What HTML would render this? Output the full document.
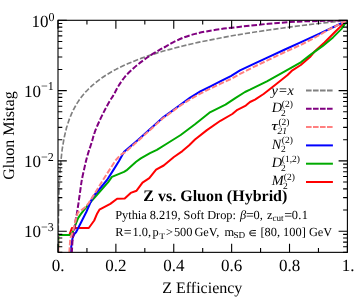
<!DOCTYPE html>
<html><head><meta charset="utf-8"><style>html,body{margin:0;padding:0;background:#fff}svg{display:block}text{font-family:"Liberation Serif",serif;fill:#000;text-rendering:geometricPrecision}</style></head><body>
<svg width="354" height="298" viewBox="0 0 354 298">
<rect width="354" height="298" fill="#fff"/>
<defs><clipPath id="c"><rect x="58.00" y="20.30" width="289.40" height="232.05"/></clipPath><filter id="tf" x="0" y="0" width="354" height="298" filterUnits="userSpaceOnUse" color-interpolation-filters="sRGB"><feOffset dx="0" dy="0"/></filter></defs>
<g clip-path="url(#c)" fill="none" stroke-linejoin="round">
<path d="M58.2 253.0 L58.2 234.9 L69.4 234.9 L71.9 228.0 L88.8 228.0 L94.2 220.5 L97.2 213.4 L99.4 209.7 L110.3 203.9 L117.1 198.8 L124.7 198.5 L130.7 192.9 L136.6 190.7 L142.5 182.7 L149.3 178.2 L156.1 169.7 L163.7 165.5 L173.9 157.0 L182.4 151.1 L189.2 145.2 L195.0 139.5 L206.9 130.1 L220.4 120.8 L232.3 114.0 L237.4 109.8 L245.8 105.6 L250.0 102.0 L255.0 99.6 L263.6 94.0 L275.4 84.7 L287.3 75.3 L292.4 70.3 L300.8 65.0 L310.0 57.0 L314.3 51.8 L324.5 42.5 L334.7 32.3 L343.2 23.9 L347.4 20.3" stroke="#ff0000" stroke-width="2"/>
<path d="M58.2 247.0 L58.2 234.9 L70.0 234.9 L72.7 232.2 L75.4 224.8 L78.1 218.1 L80.8 214.1 L83.5 210.7 L86.2 207.4 L88.8 204.0 L94.2 198.0 L108.0 182.4 L111.9 176.9 L124.0 171.9 L126.4 170.4 L136.1 161.7 L140.8 158.4 L150.0 153.2 L156.9 149.9 L167.1 143.5 L180.7 135.0 L195.0 124.2 L209.4 112.7 L225.5 104.7 L235.7 97.9 L245.0 92.0 L250.0 89.7 L266.9 81.3 L283.9 71.9 L300.8 62.3 L311.0 54.4 L322.8 45.9 L333.0 37.4 L341.5 28.9 L344.8 23.9 L347.4 20.3" stroke="#00aa00" stroke-width="2"/>
<path d="M70.3 253.0 L72.5 238.3 L74.3 234.2 L76.2 232.0 L86.3 212.0 L92.8 197.0 L100.0 188.5 L107.0 180.0 L113.0 170.6 L119.0 161.0 L124.1 151.8 L138.2 139.8 L152.4 127.1 L162.4 117.9 L170.8 111.9 L180.0 105.0 L190.2 97.6 L200.3 91.4 L210.5 86.3 L220.7 81.2 L230.8 76.1 L240.0 70.4 L254.9 63.4 L270.0 56.3 L284.9 49.5 L300.0 42.7 L320.6 33.2 L334.7 26.5 L347.4 20.3" stroke="#0000ff" stroke-width="2"/>
<path d="M58.1 252.3 L58.2 250.6 L58.2 248.8 L58.2 247.0 L58.2 245.2 L58.2 243.5 L58.2 241.7 L58.2 239.9 L58.2 238.1 L58.2 236.3 L58.3 234.6 L58.3 232.8 L58.3 231.0 L58.3 229.2 L58.3 227.4 L58.3 225.7 L58.4 223.9 L58.4 222.1 L58.4 220.3 L58.4 218.6 L58.5 216.8 L58.5 215.0 L58.5 213.2 L58.6 211.4 L58.6 209.7 L58.6 207.9 L58.7 206.1 L58.7 204.3 L58.7 202.5 L58.8 200.8 L58.8 199.0 L58.9 197.2 L58.9 195.4 L59.0 193.6 L59.0 191.9 L59.1 190.1 L59.2 188.3 L59.2 186.5 L59.3 184.8 L59.4 183.0 L59.5 181.2 L59.6 179.4 L59.7 177.6 L59.8 175.9 L59.9 174.1 L60.0 172.3 L60.1 170.5 L60.2 168.7 L60.4 167.0 L60.5 165.2 L60.7 163.4 L60.8 161.6 L61.0 159.8 L61.2 158.1 L61.4 156.3 L61.6 154.5 L61.8 152.7 L62.0 151.0 L62.2 149.2 L62.5 147.4 L62.8 145.6 L63.1 143.8 L63.4 142.1 L63.7 140.3 L64.0 138.5 L64.4 136.7 L64.8 134.9 L65.2 133.2 L65.6 131.4 L66.1 129.6 L66.5 127.8 L67.1 126.0 L67.6 124.3 L68.2 122.5 L68.8 120.7 L69.4 118.9 L70.1 117.2 L70.9 115.4 L71.6 113.6 L72.4 111.8 L73.3 110.0 L74.2 108.3 L75.2 106.5 L76.2 104.7 L77.3 102.9 L78.5 101.1 L79.7 99.4 L81.0 97.6 L82.4 95.8 L83.9 94.0 L85.4 92.2 L87.1 90.5 L88.8 88.7 L90.7 86.9 L92.6 85.1 L94.7 83.4 L96.9 81.6 L99.2 79.8 L101.7 78.0 L104.3 76.2 L107.1 74.5 L110.0 72.7 L113.2 70.9 L116.5 69.1 L120.0 67.3 L123.7 65.6 L127.6 63.8 L131.8 62.0 L136.3 60.2 L140.9 58.4 L145.9 56.7 L151.2 54.9 L156.8 53.1 L162.7 51.3 L169.0 49.6 L175.7 47.8 L182.7 46.0 L190.2 44.2 L198.1 42.4 L206.5 40.7 L215.5 38.9 L224.9 37.1 L234.9 35.3 L245.5 33.5 L256.8 31.8 L268.7 30.0 L281.4 28.2 L294.8 26.4 L309.0 24.6 L324.0 22.9 L340.0 21.1 L347.4 20.3" stroke="#7f7f7f" stroke-width="1.65" stroke-dasharray="5.2 2.0"/>
<path d="M71.8 253.0 C72.0 250.5 72.3 242.0 72.8 238.0 C73.2 234.0 74.0 231.9 74.5 229.0 C75.0 226.1 75.1 223.3 75.5 220.8 C75.9 218.3 76.3 216.6 76.8 214.0 C77.2 211.4 77.8 208.0 78.2 205.0 C78.7 202.0 79.0 199.2 79.5 196.0 C80.0 192.8 80.5 188.8 80.9 186.0 C81.3 183.2 81.4 182.2 82.0 179.0 C82.6 175.8 83.8 170.8 84.6 167.1 C85.4 163.4 86.2 160.0 87.1 156.9 C87.9 153.8 88.8 151.2 89.7 148.5 C90.6 145.8 91.4 143.5 92.2 140.8 C93.0 138.2 93.3 136.0 94.6 132.6 C95.8 129.2 98.0 124.1 99.7 120.4 C101.4 116.7 103.0 113.5 104.7 110.3 C106.4 107.0 108.3 103.5 109.8 100.9 C111.3 98.4 112.1 97.5 113.6 95.0 C115.1 92.5 116.6 88.8 118.6 85.7 C120.5 82.6 122.8 79.4 125.3 76.4 C127.8 73.4 131.0 70.5 133.8 67.9 C136.6 65.4 139.5 63.2 142.3 61.1 C145.1 59.0 148.0 57.0 150.8 55.2 C153.6 53.4 156.8 51.5 159.2 50.1 C161.6 48.7 162.8 48.2 165.0 47.0 C167.2 45.8 169.4 44.2 172.6 42.6 C175.8 41.0 180.1 38.9 183.9 37.4 C187.7 35.9 191.4 34.9 195.2 33.9 C199.0 32.9 202.3 32.2 206.5 31.4 C210.7 30.6 215.9 29.8 220.6 29.1 C225.3 28.4 229.8 28.0 234.7 27.4 C239.6 26.8 242.8 26.4 250.0 25.7 C257.2 24.9 268.8 23.6 278.2 22.9 C287.6 22.2 295.0 21.7 306.5 21.3 C318.0 20.9 340.6 20.5 347.4 20.3" stroke="#800080" stroke-width="2" stroke-dasharray="5.6 2"/>
<path d="M69.3 253.0 L70.3 238.0 L72.8 232.0 L75.0 222.8 L76.8 216.1 L78.0 212.3 L82.1 209.6 L85.5 207.0 L88.2 203.7 L92.1 197.7 L103.0 180.0 L115.5 160.5 L120.0 155.3 L125.5 152.0 L138.5 140.4 L152.6 127.7 L162.6 118.5 L171.0 112.5 L180.0 105.8 L190.2 99.3 L200.3 93.6 L210.5 88.5 L220.7 83.7 L230.8 79.0 L240.0 73.9 L254.9 66.4 L270.0 59.2 L284.9 52.0 L300.0 45.3 L315.0 37.5 L328.0 30.0 L347.4 20.3" stroke="#ff8080" stroke-width="2" stroke-dasharray="5.6 2"/>
</g>
<g stroke="#000" stroke-width="1.1" fill="none">
<rect x="58.00" y="20.30" width="289.40" height="232.05"/>
<path d="M58.00 252.35v-8.50M58.00 20.30v8.50M86.94 252.35v-4.30M86.94 20.30v4.30M115.88 252.35v-8.50M115.88 20.30v8.50M144.82 252.35v-4.30M144.82 20.30v4.30M173.76 252.35v-8.50M173.76 20.30v8.50M202.70 252.35v-4.30M202.70 20.30v4.30M231.64 252.35v-8.50M231.64 20.30v8.50M260.58 252.35v-4.30M260.58 20.30v4.30M289.52 252.35v-8.50M289.52 20.30v8.50M318.46 252.35v-4.30M318.46 20.30v4.30M347.40 252.35v-8.50M347.40 20.30v8.50M58.00 20.30h8.80M347.40 20.30h-8.80M58.00 90.60h8.80M347.40 90.60h-8.80M58.00 69.43h4.30M347.40 69.43h-4.30M58.00 57.06h4.30M347.40 57.06h-4.30M58.00 48.27h4.30M347.40 48.27h-4.30M58.00 41.46h4.30M347.40 41.46h-4.30M58.00 35.90h4.30M347.40 35.90h-4.30M58.00 31.19h4.30M347.40 31.19h-4.30M58.00 27.11h4.30M347.40 27.11h-4.30M58.00 23.52h4.30M347.40 23.52h-4.30M58.00 160.89h8.80M347.40 160.89h-8.80M58.00 139.73h4.30M347.40 139.73h-4.30M58.00 127.35h4.30M347.40 127.35h-4.30M58.00 118.57h4.30M347.40 118.57h-4.30M58.00 111.76h4.30M347.40 111.76h-4.30M58.00 106.19h4.30M347.40 106.19h-4.30M58.00 101.49h4.30M347.40 101.49h-4.30M58.00 97.41h4.30M347.40 97.41h-4.30M58.00 93.81h4.30M347.40 93.81h-4.30M58.00 231.19h8.80M347.40 231.19h-8.80M58.00 210.03h4.30M347.40 210.03h-4.30M58.00 197.65h4.30M347.40 197.65h-4.30M58.00 188.87h4.30M347.40 188.87h-4.30M58.00 182.05h4.30M347.40 182.05h-4.30M58.00 176.49h4.30M347.40 176.49h-4.30M58.00 171.78h4.30M347.40 171.78h-4.30M58.00 167.70h4.30M347.40 167.70h-4.30M58.00 164.11h4.30M347.40 164.11h-4.30M58.00 252.35h4.30M347.40 252.35h-4.30M58.00 246.78h4.30M347.40 246.78h-4.30M58.00 242.08h4.30M347.40 242.08h-4.30M58.00 238.00h4.30M347.40 238.00h-4.30M58.00 234.41h4.30M347.40 234.41h-4.30"/>
</g>
<g filter="url(#tf)">
<text x="58.0" y="270.8" font-size="17" text-anchor="middle">0.</text>
<text x="115.9" y="270.8" font-size="17" text-anchor="middle">0.2</text>
<text x="173.8" y="270.8" font-size="17" text-anchor="middle">0.4</text>
<text x="231.6" y="270.8" font-size="17" text-anchor="middle">0.6</text>
<text x="289.5" y="270.8" font-size="17" text-anchor="middle">0.8</text>
<text x="348.1" y="270.8" font-size="17" text-anchor="middle">1.</text>
<text x="54.6" y="27.2" font-size="17" text-anchor="end">10<tspan font-size="12" dy="-6.3">0</tspan></text>
<text x="53.8" y="96.5" font-size="17" text-anchor="end">10<tspan font-size="12" dy="-6.3">−1</tspan></text>
<text x="53.8" y="166.8" font-size="17" text-anchor="end">10<tspan font-size="12" dy="-6.3">−2</tspan></text>
<text x="53.8" y="237.1" font-size="17" text-anchor="end">10<tspan font-size="12" dy="-6.3">−3</tspan></text>
<text x="202.3" y="293.4" font-size="16" text-anchor="middle">Z Efficiency</text>
<text transform="translate(14.2 135.6) rotate(-90)" font-size="16" text-anchor="middle">Gluon Mistag</text>
<text x="215.3" y="200.9" font-size="16" font-weight="bold" text-anchor="middle">Z vs. Gluon (Hybrid)</text>
<text x="115.2" y="218.8" font-size="12.4" textLength="120.7" lengthAdjust="spacing">Pythia 8.219, Soft Drop:</text>
<text x="239.9" y="218.8" font-size="12.4" font-style="italic">β</text>
<text transform="translate(245.9 218.8) scale(1.13 1)" font-size="12.4">=</text>
<text x="253.5" y="218.8" font-size="12.4">0,</text>
<text x="266.9" y="218.8" font-size="12.4">z</text>
<text x="272.5" y="221.2" font-size="9.1">cut</text>
<text transform="translate(284.3 218.8) scale(1.13 1)" font-size="12.4">=</text>
<text x="291.8" y="218.8" font-size="12.4" textLength="16.2" lengthAdjust="spacing">0.1</text>
<text x="115.3" y="235.5" font-size="12.4">R</text>
<text transform="translate(123.7 235.5) scale(1.12 1)" font-size="12.4">=</text>
<text x="132.4" y="235.5" font-size="12.4">1.0,</text>
<text x="152.5" y="235.5" font-size="12.4">p</text>
<text transform="translate(159.3 238.6) scale(1.12 1)" font-size="8.6">T</text>
<text x="166.0" y="235.5" font-size="12.4">&gt;</text>
<text x="173.9" y="235.5" font-size="12.4">500</text>
<text x="194.4" y="235.5" font-size="12.4">GeV,</text>
<text x="224.6" y="235.5" font-size="12.4">m</text>
<text x="233.5" y="238.0" font-size="9.2">SD</text>
<path d="M255.9 230.5H252.3A2.6 2.6 0 0 0 252.3 235.7H255.9M249.8 233.1H255.9" fill="none" stroke="#000" stroke-width="0.9"/>
<text x="260.4" y="235.5" font-size="12.4">[80, 100] GeV</text>
<path d="M306 90.5H332.9" stroke="#808080" stroke-width="2" fill="none" stroke-dasharray="5.6 1.4"/>
<path d="M306 108.8H332.9" stroke="#800080" stroke-width="2" fill="none" stroke-dasharray="5.6 1.4"/>
<path d="M306 127.1H332.9" stroke="#ff8080" stroke-width="2" fill="none" stroke-dasharray="5.6 1.4"/>
<path d="M306 145.4H332.9" stroke="#0000ff" stroke-width="2" fill="none"/>
<path d="M306 163.7H332.9" stroke="#00aa00" stroke-width="2" fill="none"/>
<path d="M306 182.0H332.9" stroke="#ff0000" stroke-width="2" fill="none"/>
<text x="271.6" y="94.8" font-size="14.3" font-style="italic">y=x</text>
<text x="271.7" y="112.3" font-size="14.3" font-style="italic">D</text>
<text x="281.0" y="115.9" font-size="9.5">2</text>
<text x="281.8" y="106.7" font-size="9.5">(2)</text>
<text transform="translate(271.3 129.9) scale(1.28 0.9)" font-size="14.3" font-style="italic">τ</text>
<text x="271.0" y="130.2" font-size="14.3" font-style="italic"></text>
<text x="277.6" y="133.8" font-size="9.5" font-style="italic">21</text>
<text x="278.4" y="124.6" font-size="9.5">(2)</text>
<text x="271.8" y="148.6" font-size="14.3" font-style="italic">N</text>
<text x="281.0" y="152.2" font-size="9.5">2</text>
<text x="281.8" y="143.0" font-size="9.5">(2)</text>
<text x="271.7" y="167.4" font-size="14.3" font-style="italic">D</text>
<text x="281.0" y="171.0" font-size="9.5">2</text>
<text x="281.8" y="161.8" font-size="9.5">(1,2)</text>
<text x="271.7" y="185.3" font-size="14.3" font-style="italic">M</text>
<text x="283.0" y="188.9" font-size="9.5">2</text>
<text x="283.8" y="179.7" font-size="9.5">(2)</text>
</g>
</svg></body></html>
